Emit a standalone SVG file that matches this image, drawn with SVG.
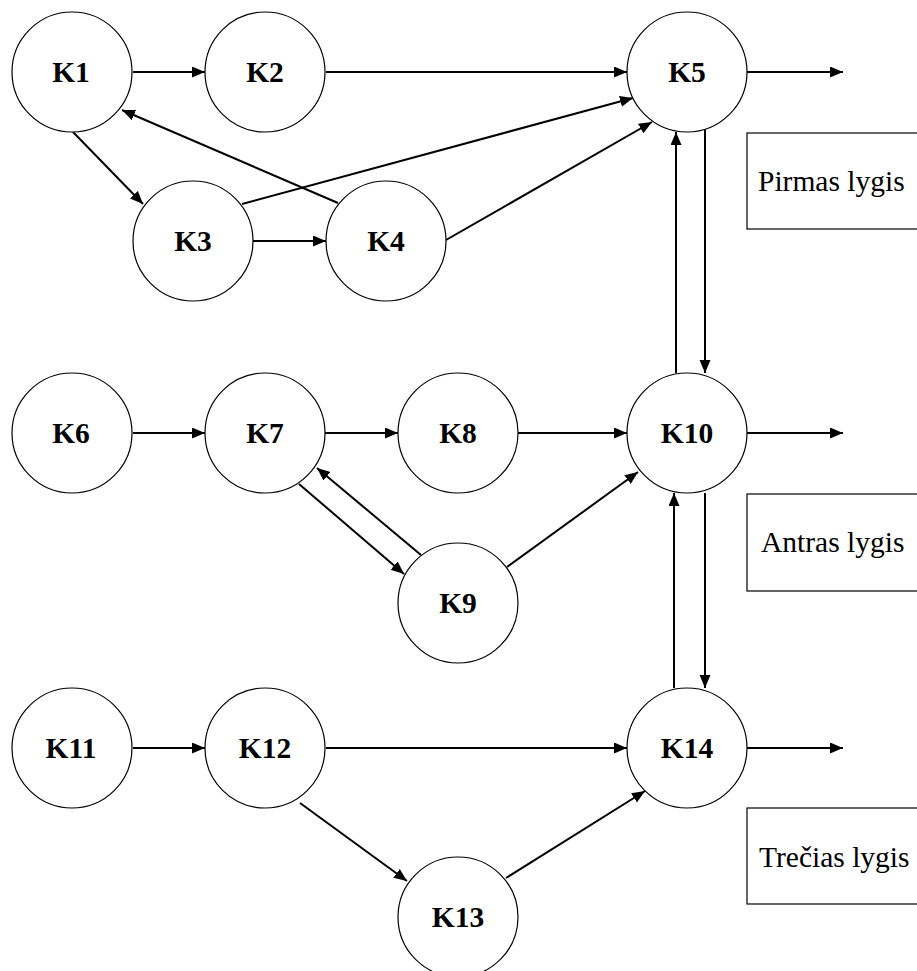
<svg xmlns="http://www.w3.org/2000/svg" width="917" height="971" viewBox="0 0 917 971">
<style>
.node circle{fill:#fff;stroke:#000;stroke-width:1.2}
.node text{font-family:"Liberation Serif","Times New Roman",serif;font-weight:bold;font-size:29.5px;text-anchor:middle;fill:#000}
.edges line{stroke:#000;stroke-width:2;marker-end:url(#ah)}
.lvl rect{fill:#fff;stroke:#000;stroke-width:1.2}
.lvl text{font-family:"Liberation Serif","Times New Roman",serif;font-size:29.5px;fill:#000}
</style>
<defs>
<marker id="ah" markerUnits="userSpaceOnUse" markerWidth="14" markerHeight="12" refX="13" refY="5.5" orient="auto">
<path d="M0,0 L13,5.5 L0,11 z" fill="#000"/>
</marker>
</defs>
<rect width="917" height="971" fill="#fff"/>
<g id="levels" class="lvl">
<g id="lvl1"><rect x="747" y="133" width="180" height="96"/><text x="758" y="191">Pirmas lygis</text></g>
<g id="lvl2"><rect x="747" y="494" width="180" height="97"/><text x="761" y="552">Antras lygis</text></g>
<g id="lvl3"><rect x="747" y="808" width="180" height="96"/><text x="759" y="867">Trečias lygis</text></g>
</g>
<g id="connectors" class="edges">
<line x1="133" y1="72" x2="205" y2="72"/>
<line x1="326" y1="72" x2="627" y2="72"/>
<line x1="747" y1="72" x2="843" y2="72"/>
<line x1="73" y1="132" x2="143" y2="204"/>
<line x1="338" y1="203" x2="122" y2="110"/>
<line x1="242" y1="204" x2="633" y2="98"/>
<line x1="446" y1="240" x2="652" y2="122"/>
<line x1="253" y1="241" x2="326" y2="241"/>
<line x1="676" y1="373" x2="676" y2="132"/>
<line x1="705" y1="129" x2="705" y2="373"/>
<line x1="133" y1="433" x2="205" y2="433"/>
<line x1="325" y1="433" x2="398" y2="433"/>
<line x1="518" y1="433" x2="627" y2="433"/>
<line x1="747" y1="433" x2="843" y2="433"/>
<line x1="299" y1="484" x2="404" y2="574"/>
<line x1="421" y1="555" x2="317" y2="468"/>
<line x1="507" y1="567" x2="638" y2="472"/>
<line x1="674" y1="688" x2="674" y2="493"/>
<line x1="705" y1="493" x2="705" y2="688"/>
<line x1="133" y1="748" x2="205" y2="748"/>
<line x1="326" y1="748" x2="627" y2="748"/>
<line x1="747" y1="748" x2="843" y2="748"/>
<line x1="300" y1="803" x2="407" y2="881"/>
<line x1="506" y1="878" x2="645" y2="791"/>
</g>
<g id="K1" class="node"><circle cx="72" cy="72" r="60"/><text x="71" y="82">K1</text></g>
<g id="K2" class="node"><circle cx="265" cy="72" r="60"/><text x="265" y="82">K2</text></g>
<g id="K5" class="node"><circle cx="687" cy="72" r="60"/><text x="687" y="82">K5</text></g>
<g id="K3" class="node"><circle cx="193" cy="241" r="60"/><text x="193" y="251">K3</text></g>
<g id="K4" class="node"><circle cx="386" cy="241" r="60"/><text x="386" y="251">K4</text></g>
<g id="K6" class="node"><circle cx="72" cy="433" r="60"/><text x="71" y="443">K6</text></g>
<g id="K7" class="node"><circle cx="265" cy="433" r="60"/><text x="265" y="443">K7</text></g>
<g id="K8" class="node"><circle cx="458" cy="433" r="60"/><text x="458" y="443">K8</text></g>
<g id="K10" class="node"><circle cx="687" cy="433" r="60"/><text x="687" y="443">K10</text></g>
<g id="K9" class="node"><circle cx="458" cy="603" r="60"/><text x="458" y="613">K9</text></g>
<g id="K11" class="node"><circle cx="72" cy="748" r="60"/><text x="71" y="758">K11</text></g>
<g id="K12" class="node"><circle cx="265" cy="748" r="60"/><text x="265" y="758">K12</text></g>
<g id="K14" class="node"><circle cx="687" cy="748" r="60"/><text x="687" y="758">K14</text></g>
<g id="K13" class="node"><circle cx="458" cy="917" r="60"/><text x="458" y="927">K13</text></g>
</svg>
